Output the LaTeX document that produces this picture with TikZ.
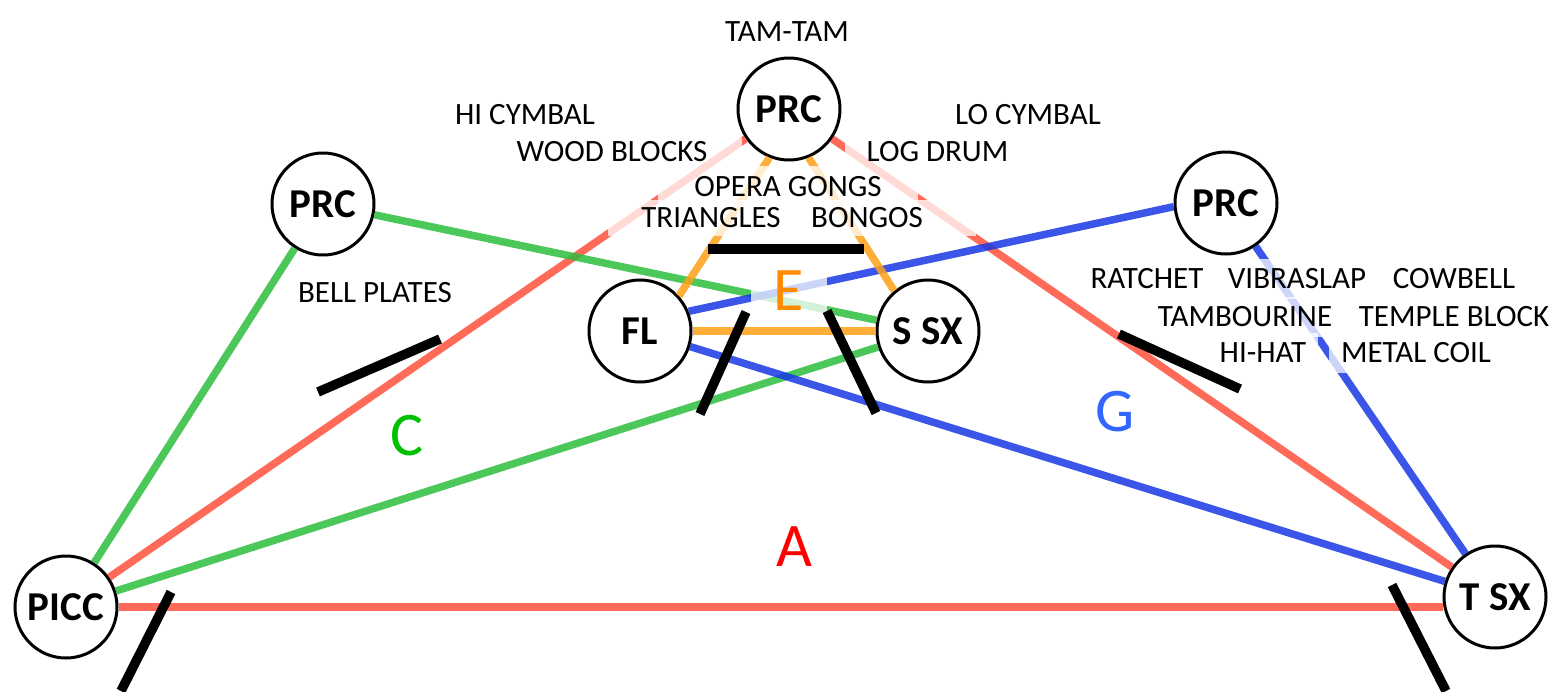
\documentclass[tikz,border=0pt]{standalone}
\usepackage{fontspec}
\setmainfont{Carlito}
\definecolor{lred}{RGB}{255,80,60}
\definecolor{lgreen}{RGB}{45,189,61}
\definecolor{lblue}{RGB}{23,55,228}
\definecolor{lorange}{RGB}{255,160,23}
\definecolor{tA}{RGB}{255,0,0}
\definecolor{tC}{RGB}{0,192,0}
\definecolor{tG}{RGB}{51,102,255}
\definecolor{tE}{RGB}{255,140,0}
\begin{document}
\begin{tikzpicture}[x=1pt,y=-1pt,
  inst/.style={circle,draw=black,line width=3pt,fill=white,minimum size=102pt,inner sep=0pt,
    font=\fontsize{41}{46}\selectfont\bfseries},
  lbl/.style={inner sep=0pt,font=\fontsize{31}{36}\selectfont},
  fadelbl/.style={lbl,fill=white,fill opacity=0.75,text opacity=1,inner xsep=5pt,inner ysep=4pt},
  big/.style={inner sep=0pt,font=\fontsize{62}{70}\selectfont},
  edgeA/.style={draw=lred,line width=7.5pt,draw opacity=0.85},
  edgeC/.style={draw=lgreen,line width=7.5pt,draw opacity=0.85},
  edgeG/.style={draw=lblue,line width=7.5pt,draw opacity=0.85},
  edgeE/.style={draw=lorange,line width=7.5pt,draw opacity=0.85},
  bar/.style={draw=black,line width=9.5pt}]
\useasboundingbox (0,0) rectangle (1556,691);

% instrument circles
\node[inst] (prcT) at (789,109) {PRC};
\node[inst] (prcL) at (323,204) {PRC};
\node[inst] (prcR) at (1226,203) {PRC};
\node[inst] (fl)   at (640,331) {FL};
\node[inst] (ssx)  at (928,331) {S SX};
\node[inst] (picc) at (66,607) {PICC};
\node[inst] (tsx)  at (1495,597) {T SX};

% A (red)
\draw[edgeA] (picc.east) -- (picc.east -| tsx.west);
\draw[edgeA] (picc) -- (prcT);
\draw[edgeA] (prcT) -- (tsx);
% C (green)
\draw[edgeC] (picc) -- (prcL);
\draw[edgeC] (prcL) -- (ssx);
\draw[edgeC] (picc) -- (ssx);
% G (blue)
\draw[edgeG] (fl.22) -- (prcR.184);
\draw[edgeG] (prcR) -- (tsx);
\draw[edgeG] (fl) -- (tsx);
% E (orange)
\draw[edgeE] (fl) -- (ssx);
\draw[edgeE] (fl.42) -- (prcT.248);
\draw[edgeE] (ssx.130) -- (prcT.292);

% labels
\node[lbl] (tamtam) at (787,32) {TAM-TAM};
\node[lbl] (hicym) at (525,115) {HI CYMBAL};
\node[lbl] (locym) at (1028,115) {LO CYMBAL};
\node[fadelbl] (wood) at (627,152) {WOOD BLOCKS\hspace*{30pt}};
\node[fadelbl] (logd) at (929,152) {\hspace*{17pt}LOG DRUM};
\node[fadelbl,minimum width=260pt,minimum height=42pt] (opera) at (788,187) {OPERA GONGS};
\node[fadelbl,inner ysep=8pt] (tri) at (697,218) {\hspace*{28pt}TRIANGLES};
\node[fadelbl,inner ysep=8pt] (bong) at (891,218) {BONGOS\hspace*{48pt}};
\node[lbl] (bell) at (375,293) {BELL PLATES};
\node[fadelbl,inner xsep=10pt,inner ysep=10pt] (ratchet) at (1147,279) {RATCHET};
\node[fadelbl,inner xsep=10pt,inner ysep=10pt] (vibra) at (1297,279) {VIBRASLAP};
\node[lbl] (cowbell) at (1454,279) {COWBELL};
\node[fadelbl,inner xsep=10pt,inner ysep=10pt] (tamb) at (1245,317) {TAMBOURINE};
\node[lbl] (temple) at (1454,317) {TEMPLE BLOCK};
\node[fadelbl,inner xsep=12pt,inner ysep=10pt] (hihat) at (1263,353) {HI-HAT};
\node[fadelbl,inner xsep=12pt,inner ysep=10pt] (metal) at (1416,353) {METAL COIL};

% key letters
\node[big,text=tA] (keyA) at (794,547) {A};
\node[big,text=tC] (keyC) at (407,436) {C};
\node[big,text=tG] (keyG) at (1115,412) {G};
\node[big,text=tE,fill=white,fill opacity=0.75,text opacity=1,minimum width=76pt,minimum height=62pt] (keyE) at (789,291) {E};

% black bars
\draw[bar] (318,392) -- (440,339);
\draw[bar] (708,249) -- (864,249);
\draw[bar] (746,312) -- (700,414);
\draw[bar] (827,311) -- (876,413);
\draw[bar] (1119,334) -- (1240,389);
\draw[bar] (171,592) -- (121,691);
\draw[bar] (1392,585) -- (1446,691);
\end{tikzpicture}
\end{document}
